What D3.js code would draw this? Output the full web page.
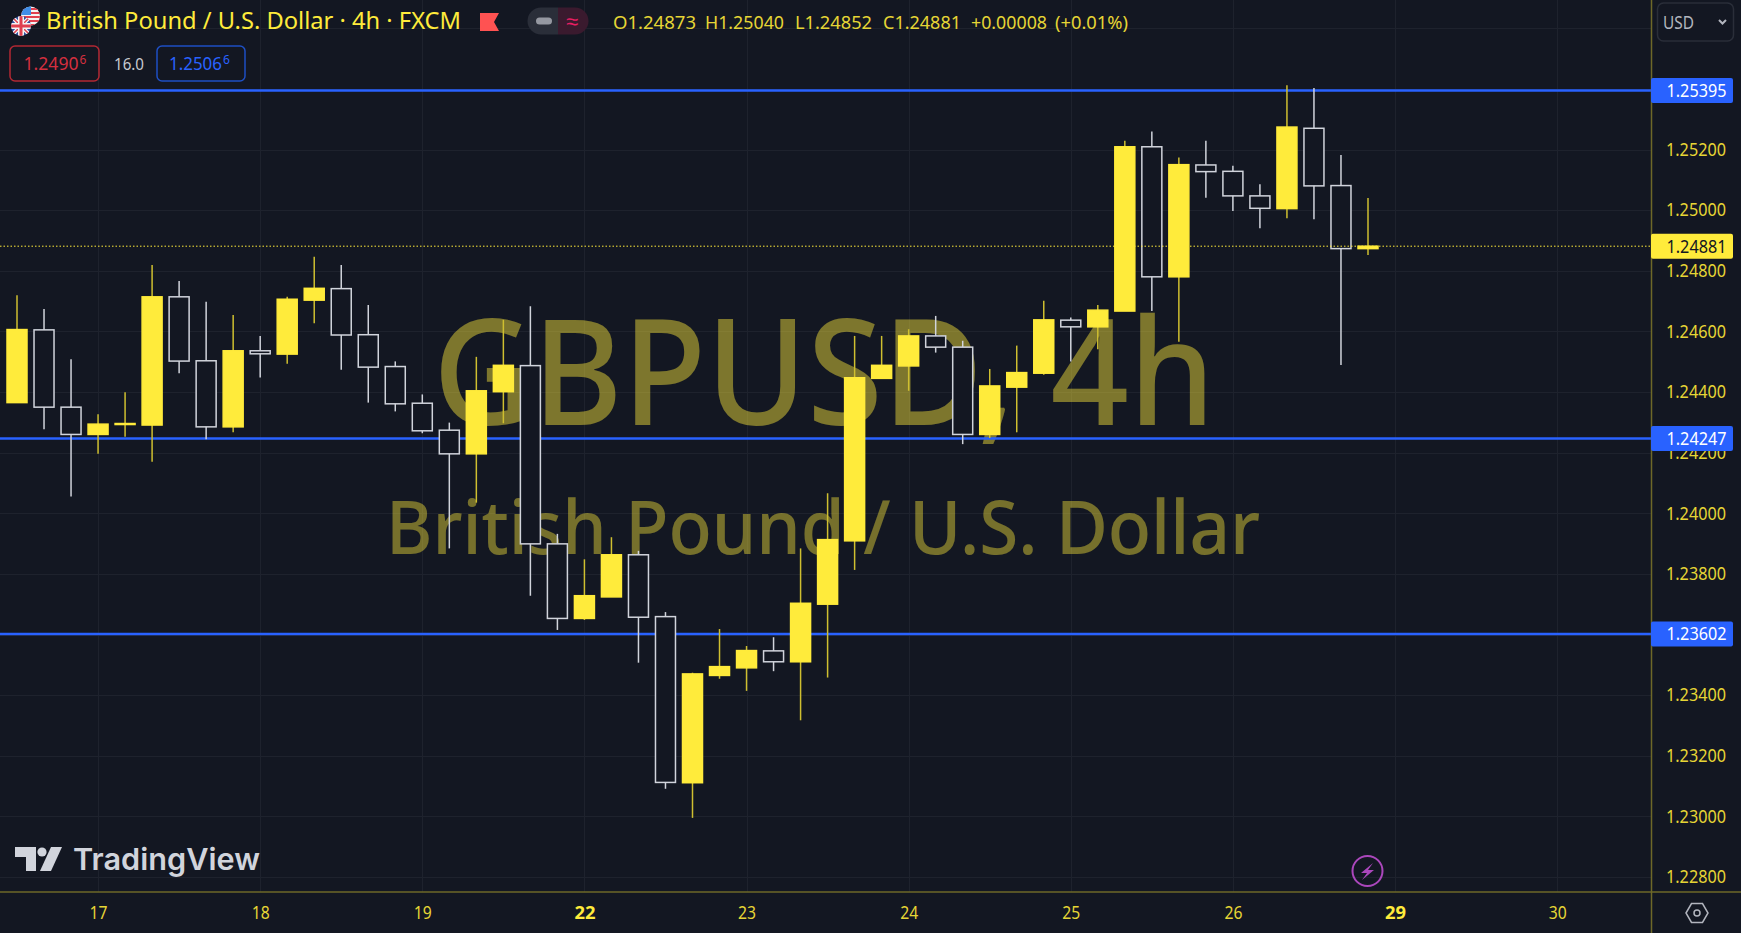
<!DOCTYPE html>
<html>
<head>
<meta charset="utf-8">
<title>GBPUSD 4h</title>
<script src="https://cdn.jsdelivr.net/npm/d3@7"></script>
<style>
    html, body { margin: 0; padding: 0; background: #131722; overflow: hidden; }
    text { font-family: "Noto Sans", sans-serif; }
</style>
</head>
<body>
<svg id="chart" width="1741" height="933"></svg>
<script>
// candles
const opens = [1.24365,1.24605,1.24350,1.24260,1.24293,1.24291,1.24714,1.24503,1.24285,1.24536,1.24525,1.24703,1.24741,1.24589,1.24484,1.24363,1.24274,1.24196,1.24401,1.24487,1.23899,1.23653,1.23724,1.23863,1.23659,1.23111,1.23465,1.23490,1.23546,1.23510,1.23700,1.23909,1.24445,1.24486,1.24585,1.24548,1.24260,1.24416,1.24462,1.24637,1.24615,1.24667,1.25209,1.24780,1.25149,1.25128,1.25047,1.25005,1.25270,1.25081,1.24873];
const highs = [1.24719,1.24674,1.24508,1.24327,1.24399,1.24819,1.24766,1.24698,1.24654,1.24585,1.24714,1.24846,1.24819,1.24687,1.24501,1.24392,1.24299,1.24516,1.24638,1.24683,1.23932,1.23848,1.23921,1.23876,1.23674,1.23474,1.23618,1.23562,1.23591,1.23884,1.24066,1.24585,1.24585,1.24607,1.24651,1.24569,1.24476,1.24553,1.24701,1.24646,1.24687,1.25229,1.25259,1.25174,1.25229,1.25146,1.25085,1.25412,1.25403,1.25182,1.25040];
const lows = [1.24365,1.24277,1.24055,1.24196,1.24252,1.24170,1.24462,1.24244,1.24267,1.24448,1.24493,1.24627,1.24473,1.24365,1.24336,1.24264,1.23884,1.24035,1.24297,1.23728,1.23615,1.23648,1.23724,1.23507,1.23091,1.22995,1.23454,1.23414,1.23479,1.23317,1.23458,1.23813,1.24445,1.24404,1.24530,1.24228,1.24248,1.24267,1.24457,1.24501,1.24541,1.24667,1.24667,1.24566,1.25041,1.24997,1.24940,1.24973,1.24970,1.24489,1.24852];
const closes = [1.24606,1.24350,1.24260,1.24294,1.24296,1.24714,1.24502,1.24285,1.24536,1.24526,1.24706,1.24742,1.24588,1.24482,1.24361,1.24272,1.24196,1.24404,1.24488,1.23899,1.23653,1.23728,1.23863,1.23657,1.23112,1.23470,1.23494,1.23547,1.23510,1.23703,1.23913,1.24447,1.24488,1.24585,1.24548,1.24260,1.24420,1.24464,1.24638,1.24615,1.24670,1.25209,1.24780,1.25150,1.25127,1.25047,1.25006,1.25274,1.25080,1.24873,1.24881];

const priceTicks = [1.228,1.23,1.232,1.234,1.236,1.238,1.24,1.242,1.244,1.246,1.248,1.25,1.252];
const gridOnlyPrices = [1.254,1.256];
const dayBars = [3,9,15,21,27,33,39,45,51,57];
const dayLabels = ["17","18","19","22","23","24","25","26","29","30"];
const boldDays = ["22","29"];
const levels = [1.25395,1.24247,1.23602];
const lastPrice = 1.24881;
const ohlcLabels = ["O1.24873","H1.25040","L1.24852","C1.24881","+0.00008","(+0.01%)"];

const yellow = "#ffeb3b";
const blue = "#2962ff";
const wickWhite = "#d1d4dc";
const gridColor = "#1e222d";
const borderColor = "#6e6828";
const labelColor = "#e6d535";

const svg = d3.select("#chart");
const plotRight = 1651, plotBottom = 892;

const x = d3.scaleLinear().domain([0, 50]).range([17, 1368]);
const y = d3.scaleLinear().domain([1.252, 1.228]).range([149.5, 877]);
const fmt = d3.format(".5f");
const isBold = d => boldDays.includes(dayLabels[dayBars.indexOf(d)]);

svg.append("rect").attr("width", 1741).attr("height", 933).attr("fill", "#131722");

// grid
const grid = svg.append("g");
grid.selectAll(".hgrid").data(priceTicks.concat(gridOnlyPrices)).enter().append("line")
    .attr("x1", 0).attr("x2", plotRight)
    .attr("y1", d => Math.round(y(d)) + 0.5).attr("y2", d => Math.round(y(d)) + 0.5)
    .attr("stroke", gridColor);
grid.selectAll(".vgrid").data(dayBars).enter().append("line")
    .attr("y1", 0).attr("y2", plotBottom)
    .attr("x1", d => Math.round(x(d)) + 0.5).attr("x2", d => Math.round(x(d)) + 0.5)
    .attr("stroke", gridColor);

// watermark
svg.append("text")
    .attr("x", 433).attr("y", 425)
    .attr("textLength", 782).attr("lengthAdjust", "spacingAndGlyphs")
    .attr("font-size", 148).attr("font-weight", 500).attr("fill", "rgba(255,235,59,0.45)")
    .text("GBPUSD, 4h");
svg.append("text")
    .attr("x", 386).attr("y", 554)
    .attr("textLength", 874).attr("lengthAdjust", "spacingAndGlyphs")
    .attr("font-size", 74).attr("font-weight", 500).attr("fill", "rgba(255,235,59,0.42)")
    .text("British Pound / U.S. Dollar");

// horizontal levels
svg.selectAll(".level").data(levels).enter().append("line")
    .attr("x1", 0).attr("x2", plotRight)
    .attr("y1", d => y(d)).attr("y2", d => y(d))
    .attr("stroke", blue).attr("stroke-width", 2.5);

// candles
const candles = opens.map((o, i) => ({ i: i, o: o, h: highs[i], l: lows[i], c: closes[i] }));
const candle = svg.selectAll(".candle").data(candles).enter().append("g").attr("class", "candle");
candle.append("line")
    .attr("x1", d => x(d.i)).attr("x2", d => x(d.i))
    .attr("y1", d => y(d.h)).attr("y2", d => y(d.l))
    .attr("stroke", d => d.c >= d.o ? "#cfbf30" : wickWhite)
    .attr("stroke-width", 1.5);
candle.append("rect")
    .attr("x", d => x(d.i) - 10)
    .attr("width", 20)
    .attr("y", d => y(Math.max(d.o, d.c)))
    .attr("height", d => Math.max(1, y(Math.min(d.o, d.c)) - y(Math.max(d.o, d.c))))
    .attr("fill", d => d.c >= d.o ? yellow : "#131722")
    .attr("stroke", d => d.c >= d.o ? yellow : wickWhite)
    .attr("stroke-width", 1.5);

// last price dotted line
svg.append("line")
    .attr("x1", 0).attr("x2", plotRight)
    .attr("y1", y(lastPrice)).attr("y2", y(lastPrice))
    .attr("stroke", yellow).attr("stroke-width", 1)
    .attr("stroke-dasharray", "1.5,2");

// axes
const yAxis = d3.axisRight(y).tickValues(priceTicks).tickFormat(fmt).tickSize(0).tickPadding(0);
const yG = svg.append("g").attr("transform", `translate(${plotRight},0)`).call(yAxis);
yG.select(".domain").remove();
yG.selectAll("text")
    .attr("x", 75).attr("text-anchor", "end")
    .attr("textLength", 60).attr("lengthAdjust", "spacingAndGlyphs")
    .attr("font-size", 18).attr("fill", labelColor)
    .style("font-family", '"Noto Sans", sans-serif');

const xAxis = d3.axisBottom(x)
    .tickValues(dayBars)
    .tickFormat((d, i) => dayLabels[i])
    .tickSize(0).tickPadding(0);
const xG = svg.append("g").attr("transform", `translate(0,${plotBottom})`).call(xAxis);
xG.select(".domain").remove();
xG.selectAll("text")
    .attr("y", 27).attr("dy", 0)
    .attr("textLength", d => isBold(d) ? 21 : 18).attr("lengthAdjust", "spacingAndGlyphs")
    .attr("font-size", 18)
    .attr("font-weight", d => isBold(d) ? 700 : 400)
    .attr("fill", d => isBold(d) ? yellow : labelColor)
    .style("font-family", '"Noto Sans", sans-serif');

svg.append("line").attr("x1", plotRight + 0.5).attr("x2", plotRight + 0.5).attr("y1", 0).attr("y2", 933)
    .attr("stroke", borderColor).attr("stroke-width", 1.5);
svg.append("line").attr("x1", 0).attr("x2", 1741).attr("y1", plotBottom).attr("y2", plotBottom)
    .attr("stroke", borderColor).attr("stroke-width", 1.5);

// price tags
function priceTag(value, fill, textFill) {
    const cy = y(value);
    svg.append("rect").attr("x", plotRight).attr("y", cy - 12.5)
        .attr("width", 82).attr("height", 25).attr("rx", 2).attr("fill", fill);
    svg.append("text").attr("x", 1726.5).attr("y", cy + 6.5).attr("text-anchor", "end")
        .attr("textLength", 60).attr("lengthAdjust", "spacingAndGlyphs")
        .attr("font-size", 18).attr("fill", textFill).text(fmt(value));
}
levels.forEach(d => priceTag(d, blue, "#ffffff"));
priceTag(lastPrice, yellow, "#131722");

// header
const defs = svg.append("defs");
defs.append("clipPath").attr("id", "usClip").append("circle").attr("cx", 30.5).attr("cy", 16).attr("r", 9.5);
defs.append("clipPath").attr("id", "ukClip").append("circle").attr("cx", 21).attr("cy", 26).attr("r", 10);

const us = svg.append("g").attr("clip-path", "url(#usClip)");
us.append("rect").attr("x", 20).attr("y", 6).attr("width", 22).attr("height", 20).attr("fill", "#f4f4f4");
[8, 12, 16, 20, 24].forEach(v => us.append("rect").attr("x", 20).attr("y", v).attr("width", 22).attr("height", 2).attr("fill", "#e0404f"));
us.append("rect").attr("x", 20).attr("y", 6).attr("width", 11).attr("height", 9).attr("fill", "#3f8ee8");

const uk = svg.append("g").attr("clip-path", "url(#ukClip)");
uk.append("rect").attr("x", 11).attr("y", 16).attr("width", 20).attr("height", 20).attr("fill", "#2f4f9f");
uk.append("path").attr("d", "M11,16L31,36M31,16L11,36").attr("stroke", "#f4f4f4").attr("stroke-width", 4);
uk.append("path").attr("d", "M11,16L31,36M31,16L11,36").attr("stroke", "#e0404f").attr("stroke-width", 1.5);
uk.append("path").attr("d", "M21,16V36M11,26H31").attr("stroke", "#f4f4f4").attr("stroke-width", 6);
uk.append("path").attr("d", "M21,16V36M11,26H31").attr("stroke", "#e0404f").attr("stroke-width", 3);

svg.append("text").attr("x", 46).attr("y", 29)
    .attr("textLength", 415).attr("lengthAdjust", "spacingAndGlyphs")
    .attr("font-size", 23).attr("fill", yellow)
    .text("British Pound / U.S. Dollar · 4h · FXCM");

svg.append("path").attr("d", "M480,13H499L494,22L499,31H480Z").attr("fill", "#ff5252");

svg.append("path").attr("d", "M558,7.5H541a13.5,13.5 0 0 0 0,27H558Z").attr("fill", "#2a2e39");
svg.append("path").attr("d", "M558,7.5H575a13.5,13.5 0 0 1 0,27H558Z").attr("fill", "#3a1a2e");
svg.append("rect").attr("x", 536).attr("y", 17.5).attr("width", 16).attr("height", 7).attr("rx", 3.5).attr("fill", "#9598a1");
svg.append("text").attr("x", 572).attr("y", 29).attr("text-anchor", "middle")
    .attr("font-size", 22).attr("fill", "#e91e63").text("≈");

const ohlcX = [613, 705, 795, 883, 971, 1055];
const ohlcW = [83, 79, 77, 78, 76, 73];
svg.selectAll(".ohlc").data(ohlcLabels).enter().append("text")
    .attr("x", (d, i) => ohlcX[i]).attr("y", 28.5)
    .attr("textLength", (d, i) => ohlcW[i]).attr("lengthAdjust", "spacingAndGlyphs")
    .attr("font-size", 18).attr("fill", labelColor)
    .text(d => d);

// bid / ask boxes
function quoteBox(bx, bw, stroke, fill, main, tx, tw) {
    svg.append("rect").attr("x", bx).attr("y", 46).attr("width", bw).attr("height", 35)
        .attr("rx", 5).attr("fill", "none").attr("stroke", stroke).attr("stroke-width", 1.5);
    svg.append("text").attr("x", tx).attr("y", 70).attr("font-size", 18).attr("fill", fill)
        .attr("textLength", tw).attr("lengthAdjust", "spacingAndGlyphs").text(main);
    svg.append("text").attr("x", tx + tw + 1).attr("y", 64).attr("font-size", 12).attr("fill", fill).text("6");
}
quoteBox(10, 89, "#b22833", "#d32f3f", "1.2490", 23.5, 55);
quoteBox(157, 88, "#1e4fc4", "#2962ff", "1.2506", 169, 53);
svg.append("text").attr("x", 114).attr("y", 69.5).attr("font-size", 17).attr("fill", "#c8cad0")
    .attr("textLength", 30).attr("lengthAdjust", "spacingAndGlyphs").text("16.0");

// currency button
svg.append("rect").attr("x", 1657.5).attr("y", 3).attr("width", 76).attr("height", 38).attr("rx", 6)
    .attr("fill", "none").attr("stroke", "#2a2e39").attr("stroke-width", 1.5);
svg.append("text").attr("x", 1663).attr("y", 29).attr("font-size", 18).attr("fill", "#b2b5be")
    .attr("textLength", 31).attr("lengthAdjust", "spacingAndGlyphs").text("USD");
svg.append("path").attr("d", "M1719,20L1722.5,23.5L1726,20").attr("fill", "none").attr("stroke", "#b2b5be").attr("stroke-width", 2);

// TradingView logo
const logo = svg.append("g").attr("transform", "translate(15,847)").attr("fill", "#d1d4dc");
logo.append("path").attr("d", "M0,0H21V24H11V10H0Z");
logo.append("circle").attr("cx", 27).attr("cy", 5).attr("r", 4.6);
logo.append("path").attr("d", "M36,0H47L36,24H25Z");
svg.append("text").attr("x", 73).attr("y", 870)
    .attr("textLength", 187).attr("lengthAdjust", "spacingAndGlyphs")
    .attr("font-size", 30).attr("font-weight", 600).attr("fill", "#d1d4dc")
    .style("font-family", "Inter, sans-serif")
    .text("TradingView");

// lightning badge
svg.append("circle").attr("cx", 1367.5).attr("cy", 871).attr("r", 15)
    .attr("fill", "none").attr("stroke", "#ab47bc").attr("stroke-width", 2);
svg.append("path").attr("d", "M1373,863L1361,873H1367L1362,880L1374,870H1368Z").attr("fill", "#ab47bc");

// settings hexagon
svg.append("path").attr("d", "M1686,913L1691.5,903.5H1702.5L1708,913L1702.5,922.5H1691.5Z")
    .attr("fill", "none").attr("stroke", "#b2b5be").attr("stroke-width", 1.5);
svg.append("circle").attr("cx", 1697).attr("cy", 913).attr("r", 3)
    .attr("fill", "none").attr("stroke", "#b2b5be").attr("stroke-width", 1.5);
</script>
</body>
</html>
